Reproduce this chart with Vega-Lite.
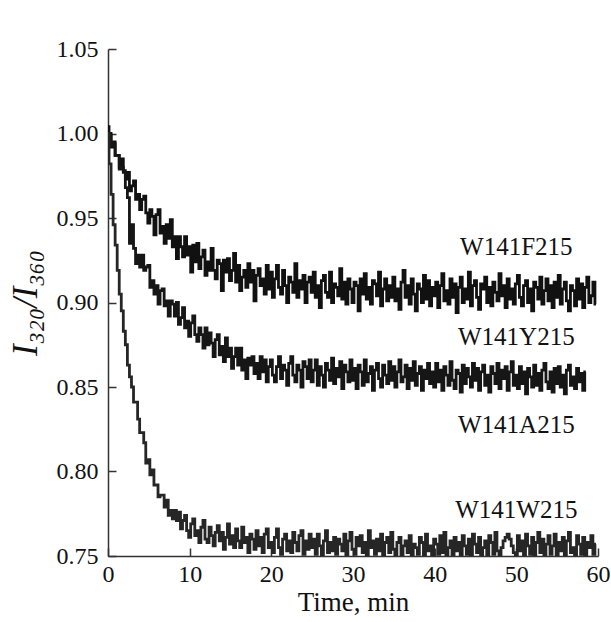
{
"$schema":"https://vega.github.io/schema/vega-lite/v6.json",
"width":490,"height":507,
"autosize":{"type":"none"},
"padding":{"left":108,"top":49,"right":13,"bottom":66},
"background":"white",
"config":{"view":{"stroke":null},"font":"Liberation Serif","axis":{"zindex":1}},
"datasets":{
"curves":[
{"t":0,"F":1.004,"Y":1.000,"W":1.000},{"t":0.25,"F":1.000,"Y":0.999,"W":0.982},{"t":0.5,"F":0.992,"Y":0.993,"W":0.964},{"t":0.75,"F":0.995,"Y":0.994,"W":0.946},
{"t":1,"F":0.987,"Y":0.987,"W":0.934},{"t":1.25,"F":0.987,"Y":0.987,"W":0.919},{"t":1.5,"F":0.980,"Y":0.979,"W":0.905},{"t":1.75,"F":0.985,"Y":0.980,"W":0.895},
{"t":2,"F":0.977,"Y":0.978,"W":0.883},{"t":2.25,"F":0.973,"Y":0.968,"W":0.875},{"t":2.5,"F":0.977,"Y":0.962,"W":0.863},{"t":2.75,"F":0.966,"Y":0.935,"W":0.856},
{"t":3,"F":0.969,"Y":0.946,"W":0.850},{"t":3.25,"F":0.972,"Y":0.932,"W":0.841},{"t":3.5,"F":0.961,"Y":0.923,"W":0.841},{"t":3.75,"F":0.964,"Y":0.928,"W":0.831},
{"t":4,"F":0.955,"Y":0.921,"W":0.823},{"t":4.25,"F":0.961,"Y":0.928,"W":0.823},{"t":4.5,"F":0.963,"Y":0.919,"W":0.817},{"t":4.75,"F":0.953,"Y":0.921,"W":0.805},
{"t":5,"F":0.947,"Y":0.922,"W":0.807},{"t":5.25,"F":0.955,"Y":0.909,"W":0.798},{"t":5.5,"F":0.951,"Y":0.913,"W":0.801},{"t":5.75,"F":0.940,"Y":0.905,"W":0.792},
{"t":6,"F":0.952,"Y":0.910,"W":0.792},{"t":6.25,"F":0.955,"Y":0.899,"W":0.785},{"t":6.5,"F":0.941,"Y":0.907,"W":0.786},{"t":6.75,"F":0.945,"Y":0.908,"W":0.786},
{"t":7,"F":0.935,"Y":0.898,"W":0.779},{"t":7.25,"F":0.946,"Y":0.901,"W":0.783},{"t":7.5,"F":0.938,"Y":0.892,"W":0.774},{"t":7.75,"F":0.949,"Y":0.901,"W":0.777},
{"t":8,"F":0.933,"Y":0.899,"W":0.772},{"t":8.25,"F":0.939,"Y":0.892,"W":0.777},{"t":8.5,"F":0.926,"Y":0.900,"W":0.771},{"t":8.75,"F":0.939,"Y":0.887,"W":0.776},
{"t":9,"F":0.933,"Y":0.891,"W":0.766},{"t":9.25,"F":0.927,"Y":0.897,"W":0.771},{"t":9.5,"F":0.939,"Y":0.885,"W":0.774},{"t":9.75,"F":0.928,"Y":0.889,"W":0.765},
{"t":10,"F":0.933,"Y":0.880,"W":0.761},{"t":10.25,"F":0.918,"Y":0.888,"W":0.769},{"t":10.5,"F":0.934,"Y":0.892,"W":0.772},{"t":10.75,"F":0.924,"Y":0.881,"W":0.762},
{"t":11,"F":0.935,"Y":0.877,"W":0.765},{"t":11.25,"F":0.920,"Y":0.885,"W":0.758},{"t":11.5,"F":0.927,"Y":0.881,"W":0.767},{"t":11.75,"F":0.931,"Y":0.873,"W":0.771},
{"t":12,"F":0.916,"Y":0.885,"W":0.760},{"t":12.25,"F":0.924,"Y":0.875,"W":0.758},{"t":12.5,"F":0.919,"Y":0.882,"W":0.767},{"t":12.75,"F":0.932,"Y":0.876,"W":0.762},
{"t":13,"F":0.919,"Y":0.868,"W":0.756},{"t":13.25,"F":0.914,"Y":0.878,"W":0.764},{"t":13.5,"F":0.925,"Y":0.881,"W":0.768},{"t":13.75,"F":0.923,"Y":0.869,"W":0.759},
{"t":14,"F":0.907,"Y":0.874,"W":0.764},{"t":14.25,"F":0.925,"Y":0.865,"W":0.754},{"t":14.5,"F":0.918,"Y":0.879,"W":0.761},{"t":14.75,"F":0.926,"Y":0.868,"W":0.769},
{"t":15,"F":0.913,"Y":0.873,"W":0.757},{"t":15.25,"F":0.919,"Y":0.861,"W":0.762},{"t":15.5,"F":0.929,"Y":0.868,"W":0.755},{"t":15.75,"F":0.912,"Y":0.873,"W":0.766},
{"t":16,"F":0.922,"Y":0.863,"W":0.759},{"t":16.25,"F":0.907,"Y":0.873,"W":0.755},{"t":16.5,"F":0.915,"Y":0.860,"W":0.767},{"t":16.75,"F":0.919,"Y":0.866,"W":0.758},
{"t":17,"F":0.909,"Y":0.855,"W":0.761},{"t":17.25,"F":0.923,"Y":0.867,"W":0.752},{"t":17.5,"F":0.912,"Y":0.863,"W":0.763},{"t":17.75,"F":0.919,"Y":0.868,"W":0.760},
{"t":18,"F":0.901,"Y":0.858,"W":0.754},{"t":18.25,"F":0.916,"Y":0.864,"W":0.765},{"t":18.5,"F":0.920,"Y":0.855,"W":0.756},{"t":18.75,"F":0.910,"Y":0.868,"W":0.761},
{"t":19,"F":0.914,"Y":0.859,"W":0.752},{"t":19.25,"F":0.905,"Y":0.866,"W":0.763},{"t":19.5,"F":0.922,"Y":0.853,"W":0.766},{"t":19.75,"F":0.908,"Y":0.862,"W":0.755},
{"t":20,"F":0.918,"Y":0.866,"W":0.758},{"t":20.25,"F":0.903,"Y":0.857,"W":0.752},{"t":20.5,"F":0.914,"Y":0.853,"W":0.761},{"t":20.75,"F":0.922,"Y":0.862,"W":0.766},
{"t":21,"F":0.909,"Y":0.868,"W":0.755},{"t":21.25,"F":0.905,"Y":0.855,"W":0.751},{"t":21.5,"F":0.919,"Y":0.863,"W":0.760},{"t":21.75,"F":0.910,"Y":0.860,"W":0.763},
{"t":22,"F":0.900,"Y":0.851,"W":0.753},{"t":22.25,"F":0.915,"Y":0.864,"W":0.759},{"t":22.5,"F":0.912,"Y":0.868,"W":0.752},{"t":22.75,"F":0.906,"Y":0.857,"W":0.764},
{"t":23,"F":0.923,"Y":0.853,"W":0.758},{"t":23.25,"F":0.903,"Y":0.863,"W":0.753},{"t":23.5,"F":0.913,"Y":0.860,"W":0.762},{"t":23.75,"F":0.908,"Y":0.850,"W":0.765},
{"t":24,"F":0.916,"Y":0.865,"W":0.751},{"t":24.25,"F":0.900,"Y":0.862,"W":0.759},{"t":24.5,"F":0.912,"Y":0.855,"W":0.754},{"t":24.75,"F":0.915,"Y":0.866,"W":0.763},
{"t":25,"F":0.906,"Y":0.853,"W":0.755},{"t":25.25,"F":0.918,"Y":0.860,"W":0.760},{"t":25.5,"F":0.903,"Y":0.866,"W":0.751},{"t":25.75,"F":0.910,"Y":0.851,"W":0.763},
{"t":26,"F":0.897,"Y":0.862,"W":0.756},{"t":26.25,"F":0.913,"Y":0.857,"W":0.750},{"t":26.5,"F":0.916,"Y":0.850,"W":0.759},{"t":26.75,"F":0.906,"Y":0.864,"W":0.765},
{"t":27,"F":0.903,"Y":0.860,"W":0.752},{"t":27.25,"F":0.918,"Y":0.854,"W":0.758},{"t":27.5,"F":0.900,"Y":0.867,"W":0.753},{"t":27.75,"F":0.911,"Y":0.852,"W":0.761},
{"t":28,"F":0.909,"Y":0.861,"W":0.751},{"t":28.25,"F":0.904,"Y":0.856,"W":0.760},{"t":28.5,"F":0.920,"Y":0.865,"W":0.757},{"t":28.75,"F":0.902,"Y":0.849,"W":0.753},
{"t":29,"F":0.912,"Y":0.863,"W":0.763},{"t":29.25,"F":0.899,"Y":0.859,"W":0.750},{"t":29.5,"F":0.914,"Y":0.853,"W":0.759},{"t":29.75,"F":0.908,"Y":0.866,"W":0.764},
{"t":30,"F":0.900,"Y":0.854,"W":0.754},{"t":30.25,"F":0.912,"Y":0.861,"W":0.751},{"t":30.5,"F":0.910,"Y":0.849,"W":0.761},{"t":30.75,"F":0.895,"Y":0.863,"W":0.756},
{"t":31,"F":0.914,"Y":0.859,"W":0.762},{"t":31.25,"F":0.905,"Y":0.851,"W":0.752},{"t":31.5,"F":0.917,"Y":0.866,"W":0.758},{"t":31.75,"F":0.902,"Y":0.853,"W":0.750},
{"t":32,"F":0.909,"Y":0.858,"W":0.765},{"t":32.25,"F":0.899,"Y":0.862,"W":0.755},{"t":32.5,"F":0.913,"Y":0.848,"W":0.759},{"t":32.75,"F":0.911,"Y":0.860,"W":0.751},
{"t":33,"F":0.904,"Y":0.864,"W":0.760},{"t":33.25,"F":0.918,"Y":0.855,"W":0.753},{"t":33.5,"F":0.898,"Y":0.850,"W":0.763},{"t":33.75,"F":0.908,"Y":0.863,"W":0.750},
{"t":34,"F":0.914,"Y":0.857,"W":0.758},{"t":34.25,"F":0.901,"Y":0.852,"W":0.761},{"t":34.5,"F":0.910,"Y":0.865,"W":0.752},{"t":34.75,"F":0.903,"Y":0.854,"W":0.764},
{"t":35,"F":0.915,"Y":0.862,"W":0.754},{"t":35.25,"F":0.901,"Y":0.850,"W":0.750},{"t":35.5,"F":0.908,"Y":0.859,"W":0.758},{"t":35.75,"F":0.896,"Y":0.866,"W":0.761},
{"t":36,"F":0.912,"Y":0.853,"W":0.749},{"t":36.25,"F":0.919,"Y":0.856,"W":0.756},{"t":36.5,"F":0.903,"Y":0.863,"W":0.759},{"t":36.75,"F":0.910,"Y":0.849,"W":0.752},
{"t":37,"F":0.899,"Y":0.861,"W":0.762},{"t":37.25,"F":0.914,"Y":0.854,"W":0.750},{"t":37.5,"F":0.905,"Y":0.865,"W":0.757},{"t":37.75,"F":0.895,"Y":0.851,"W":0.755},
{"t":38,"F":0.911,"Y":0.858,"W":0.751},{"t":38.25,"F":0.908,"Y":0.862,"W":0.761},{"t":38.5,"F":0.900,"Y":0.848,"W":0.758},{"t":38.75,"F":0.916,"Y":0.860,"W":0.750},
{"t":39,"F":0.902,"Y":0.855,"W":0.763},{"t":39.25,"F":0.913,"Y":0.864,"W":0.753},{"t":39.5,"F":0.898,"Y":0.852,"W":0.756},{"t":39.75,"F":0.909,"Y":0.859,"W":0.749},
{"t":40,"F":0.904,"Y":0.850,"W":0.760},{"t":40.25,"F":0.912,"Y":0.864,"W":0.757},{"t":40.5,"F":0.897,"Y":0.853,"W":0.751},{"t":40.75,"F":0.910,"Y":0.860,"W":0.762},
{"t":41,"F":0.917,"Y":0.848,"W":0.752},{"t":41.25,"F":0.901,"Y":0.862,"W":0.764},{"t":41.5,"F":0.907,"Y":0.857,"W":0.750},{"t":41.75,"F":0.899,"Y":0.851,"W":0.755},
{"t":42,"F":0.914,"Y":0.865,"W":0.759},{"t":42.25,"F":0.903,"Y":0.854,"W":0.749},{"t":42.5,"F":0.911,"Y":0.849,"W":0.761},{"t":42.75,"F":0.894,"Y":0.860,"W":0.753},
{"t":43,"F":0.909,"Y":0.858,"W":0.758},{"t":43.25,"F":0.915,"Y":0.847,"W":0.750},{"t":43.5,"F":0.900,"Y":0.863,"W":0.762},{"t":43.75,"F":0.908,"Y":0.852,"W":0.756},
{"t":44,"F":0.902,"Y":0.861,"W":0.751},{"t":44.25,"F":0.918,"Y":0.856,"W":0.760},{"t":44.5,"F":0.898,"Y":0.850,"W":0.749},{"t":44.75,"F":0.910,"Y":0.864,"W":0.763},
{"t":45,"F":0.913,"Y":0.854,"W":0.757},{"t":45.25,"F":0.903,"Y":0.861,"W":0.752},{"t":45.5,"F":0.896,"Y":0.848,"W":0.761},{"t":45.75,"F":0.911,"Y":0.859,"W":0.750},
{"t":46,"F":0.908,"Y":0.863,"W":0.755},{"t":46.25,"F":0.915,"Y":0.851,"W":0.759},{"t":46.5,"F":0.900,"Y":0.857,"W":0.749},{"t":46.75,"F":0.909,"Y":0.847,"W":0.762},
{"t":47,"F":0.898,"Y":0.862,"W":0.758},{"t":47.25,"F":0.912,"Y":0.858,"W":0.751},{"t":47.5,"F":0.906,"Y":0.852,"W":0.764},{"t":47.75,"F":0.901,"Y":0.864,"W":0.753},
{"t":48,"F":0.917,"Y":0.849,"W":0.750},{"t":48.25,"F":0.904,"Y":0.860,"W":0.755},{"t":48.5,"F":0.910,"Y":0.855,"W":0.759},{"t":48.75,"F":0.897,"Y":0.862,"W":0.761},
{"t":49,"F":0.914,"Y":0.848,"W":0.763},{"t":49.25,"F":0.902,"Y":0.859,"W":0.760},{"t":49.5,"F":0.908,"Y":0.865,"W":0.756},{"t":49.75,"F":0.899,"Y":0.851,"W":0.752},
{"t":50,"F":0.911,"Y":0.857,"W":0.750},{"t":50.25,"F":0.916,"Y":0.849,"W":0.762},{"t":50.5,"F":0.903,"Y":0.862,"W":0.753},{"t":50.75,"F":0.898,"Y":0.852,"W":0.759},
{"t":51,"F":0.910,"Y":0.859,"W":0.749},{"t":51.25,"F":0.913,"Y":0.846,"W":0.763},{"t":51.5,"F":0.900,"Y":0.861,"W":0.756},{"t":51.75,"F":0.908,"Y":0.856,"W":0.751},
{"t":52,"F":0.895,"Y":0.850,"W":0.761},{"t":52.25,"F":0.912,"Y":0.863,"W":0.750},{"t":52.5,"F":0.909,"Y":0.851,"W":0.758},{"t":52.75,"F":0.902,"Y":0.858,"W":0.764},
{"t":53,"F":0.915,"Y":0.848,"W":0.752},{"t":53.25,"F":0.899,"Y":0.860,"W":0.760},{"t":53.5,"F":0.907,"Y":0.864,"W":0.749},{"t":53.75,"F":0.914,"Y":0.853,"W":0.757},
{"t":54,"F":0.901,"Y":0.849,"W":0.762},{"t":54.25,"F":0.910,"Y":0.859,"W":0.751},{"t":54.5,"F":0.897,"Y":0.847,"W":0.756},{"t":54.75,"F":0.912,"Y":0.861,"W":0.763},
{"t":55,"F":0.903,"Y":0.852,"W":0.750},{"t":55.25,"F":0.916,"Y":0.862,"W":0.758},{"t":55.5,"F":0.899,"Y":0.850,"W":0.753},{"t":55.75,"F":0.908,"Y":0.857,"W":0.761},
{"t":56,"F":0.912,"Y":0.846,"W":0.749},{"t":56.25,"F":0.901,"Y":0.860,"W":0.759},{"t":56.5,"F":0.895,"Y":0.863,"W":0.764},{"t":56.75,"F":0.910,"Y":0.851,"W":0.752},
{"t":57,"F":0.907,"Y":0.856,"W":0.755},{"t":57.25,"F":0.898,"Y":0.849,"W":0.750},{"t":57.5,"F":0.914,"Y":0.861,"W":0.762},{"t":57.75,"F":0.902,"Y":0.853,"W":0.757},
{"t":58,"F":0.911,"Y":0.858,"W":0.751},{"t":58.25,"F":0.897,"Y":0.848,"W":0.761},{"t":58.5,"F":0.909,"Y":0.859,"W":0.750},{"t":58.75,"F":0.915,"Y":null,"W":0.758},
{"t":59,"F":0.900,"Y":null,"W":0.755},{"t":59.25,"F":0.904,"Y":null,"W":0.762},{"t":59.5,"F":0.912,"Y":null,"W":0.751},{"t":59.75,"F":0.899,"Y":null,"W":0.757}
],
"labels":[
{"t":50,"v":0.9281,"label":"W141F215"},
{"t":50,"v":0.8749,"label":"W141Y215"},
{"t":50,"v":0.8228,"label":"W141A215"},
{"t":50,"v":0.7725,"label":"W141W215"}
]
},
"layer":[
{"data":{"name":"curves"},
 "transform":[{"fold":["F","Y","W"],"as":["s","v"]},{"filter":"isValid(datum.v)"}],
 "mark":{"type":"line","strokeWidth":2.8,"clip":true,"interpolate":"step"},
 "encoding":{
  "x":{"field":"t","type":"quantitative","scale":{"domain":[0,60],"nice":false},
   "axis":{"values":[0,10,20,30,40,50,60],"format":"d","title":"Time, min","grid":false,
    "labelFont":"Liberation Serif","labelFontSize":24,"labelColor":"#111","labelPadding":14,"labelFlush":false,
    "titleFont":"Liberation Serif","titleFontSize":27,"titleFontWeight":"normal","titleColor":"#111","titlePadding":3,
    "tickSize":-8,"tickColor":"#333","tickWidth":1.5,"domainColor":"#333","domainWidth":1.5}},
  "y":{"field":"v","type":"quantitative","scale":{"domain":[0.75,1.05],"nice":false,"zero":false},
   "axis":{"values":[0.75,0.8,0.85,0.9,0.95,1.0,1.05],"format":".2f","title":"I₃₂₀/I₃₆₀","grid":false,
    "labelFont":"Liberation Serif","labelFontSize":24,"labelColor":"#111","labelPadding":18,
    "titleFont":"Liberation Serif","titleFontSize":35,"titleFontWeight":"normal","titleFontStyle":"italic","titleColor":"#111","titlePadding":13,
    "tickSize":-8,"tickColor":"#333","tickWidth":1.5,"domainColor":"#333","domainWidth":1.5}},
  "detail":{"field":"s"},
  "color":{"field":"s","type":"nominal","scale":{"domain":["F","Y","W"],"range":["#111111","#161616","#262626"]},"legend":null},
  "order":{"field":"t","type":"quantitative"}
 }},
{"data":{"name":"labels"},
 "mark":{"type":"text","font":"Liberation Serif","fontSize":25,"align":"center","baseline":"alphabetic","color":"#111"},
 "encoding":{
  "x":{"field":"t","type":"quantitative"},
  "y":{"field":"v","type":"quantitative"},
  "text":{"field":"label"}
 }}
]
}
